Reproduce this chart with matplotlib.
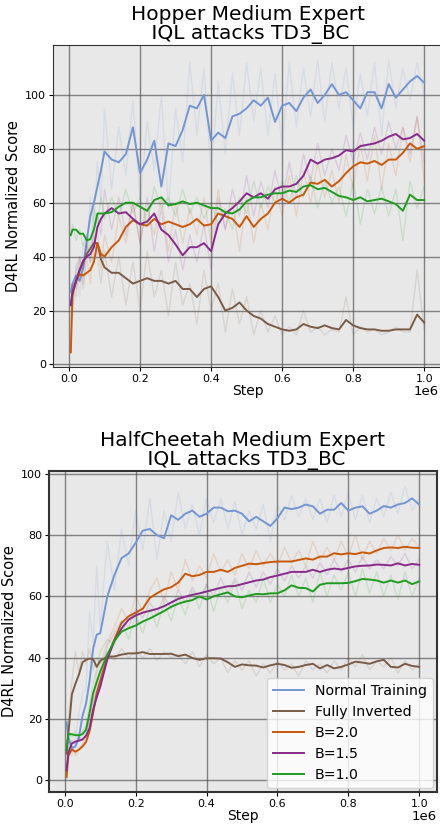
import numpy as np
import matplotlib
matplotlib.use("Agg")
import matplotlib.pyplot as plt

# training steps (thousands)
steps_k = [5, 10, 20, 30, 40, 50, 60, 70, 80, 90, 100,
           120, 140, 160, 180, 200, 220, 240, 260, 280, 300,
           320, 340, 360, 380, 400, 420, 440, 460, 480, 500,
           520, 540, 560, 580, 600, 620, 640, 660, 680, 700,
           720, 740, 760, 780, 800, 820, 840, 860, 880, 900,
           920, 940, 960, 980, 1000]

labels = ["Normal Training", "Fully Inverted", "B=2.0", "B=1.5", "B=1.0"]
colors = ["#7396d2", "#7a5c46", "#c8580a", "#872a8a", "#1f9b1f"]

# ---- Hopper: smoothed curves
hop_normal = [27, 30, 33, 31, 36, 46, 55, 60, 66, 72, 79,
              76, 75, 78, 88, 71, 76, 83, 66, 82, 81, 87, 96, 95, 100, 83,
              86, 84, 92, 93, 95, 98, 96, 99, 90, 96, 97, 94, 99, 102, 97,
              100, 104, 100, 101, 98, 95, 101, 101, 95, 104, 99, 102, 105, 107, 104.5]
hop_inverted = [22, 26, 31, 35, 38, 41, 43, 45, 45, 39, 36,
                34, 34, 32, 30, 31, 32, 31, 31, 30, 31, 28, 28, 25, 28, 29,
                25, 20, 21, 23, 20, 18, 17, 15, 14, 13, 12.5, 13, 15, 14, 13.5,
                14.5, 13.5, 13, 16.5, 14.5, 13.5, 13, 13, 12.5, 12.5, 13, 13, 13, 18.5, 15.5]
hop_b20 = [4.5, 27, 31, 33.5, 33, 34, 35, 38, 45, 41, 40,
           43.5, 46, 51, 53.5, 52, 51.5, 54, 52, 53, 52, 51, 52, 54, 51.5, 52,
           56, 55, 54, 51, 55, 51, 54, 56, 60, 61.5, 60, 62, 63, 67.5, 67,
           68.5, 66, 68, 71, 73.5, 75, 74.5, 75.5, 74, 76, 76, 78.5, 82, 80, 81]
hop_b15 = [22, 27, 31, 35, 38.5, 40, 41, 43.5, 51, 54, 56,
           58, 56, 56.5, 54, 52, 53, 56, 50, 48, 44.5, 40.5, 43.5, 43.5, 45, 42,
           52, 56, 58, 60.5, 63.5, 62, 63.5, 61.5, 65, 66, 66, 67, 70, 76, 74.5,
           76, 76.5, 77.5, 79.5, 79, 81, 81.5, 82, 83, 84.5, 85.5, 83.5, 84, 85.5, 83]
hop_b10 = [48, 50, 50, 48.5, 48.5, 46, 46.5, 50, 56, 56, 56,
           56.5, 58.5, 60, 60, 58.5, 57, 61, 62, 59, 59.5, 60.5, 59.5, 60, 59, 58,
           58, 56.5, 56, 57.5, 60.5, 62, 62, 63, 63.5, 63.5, 64.5, 64, 66, 66.5, 65,
           65.5, 64, 62.5, 62, 61, 62, 60.5, 61, 61.5, 60.5, 59.5, 57, 63, 61, 61]

# ---- Hopper: raw evaluations (faint)
hop_normal_raw = [30, 22, 38, 25, 45, 40, 62, 52, 75, 60, 95,
                  65, 88, 70, 98, 60, 90, 72, 100, 58, 95, 75, 112, 85, 110, 70,
                  105, 78, 108, 85, 112, 90, 110, 85, 108, 80, 112, 88, 110, 92, 113,
                  90, 112, 95, 110, 88, 108, 92, 112, 85, 113, 95, 110, 98, 112, 100]
hop_inverted_raw = [25, 18, 35, 40, 30, 45, 38, 48, 40, 30, 42,
                    25, 40, 22, 38, 20, 42, 25, 35, 18, 38, 22, 30, 15, 35, 20,
                    30, 12, 28, 15, 25, 11, 20, 12, 18, 11, 14, 11, 20, 12, 14,
                    11, 13, 12, 25, 11, 14, 12, 13, 11, 12, 14, 12, 12, 35, 13]
hop_b20_raw = [4.4, 30, 25, 38, 28, 40, 30, 45, 50, 35, 48,
               38, 55, 45, 60, 45, 58, 48, 62, 42, 60, 45, 58, 48, 62, 45,
               65, 50, 60, 42, 62, 45, 60, 50, 66, 55, 70, 55, 72, 60, 75,
               62, 72, 60, 78, 65, 82, 68, 85, 65, 82, 70, 88, 75, 92, 68]
hop_b15_raw = [22, 30, 28, 40, 35, 45, 38, 50, 55, 48, 65,
               50, 62, 48, 60, 45, 62, 42, 58, 38, 50, 35, 48, 38, 52, 35,
               62, 50, 65, 55, 70, 55, 68, 58, 72, 60, 75, 62, 78, 68, 82,
               70, 80, 72, 85, 75, 86, 76, 88, 78, 90, 80, 88, 78, 92, 75]
hop_b10_raw = [48, 52, 46, 50, 44, 48, 42, 58, 52, 62, 54,
               62, 55, 65, 56, 62, 52, 66, 58, 62, 55, 65, 56, 62, 54, 60,
               52, 58, 50, 62, 56, 68, 58, 66, 60, 68, 60, 70, 62, 70, 58,
               68, 60, 66, 55, 68, 52, 65, 56, 66, 55, 65, 46, 68, 58, 66]

# ---- HalfCheetah: smoothed curves
hc_normal = [19, 14, 10.5, 11, 14, 21, 25, 32.5, 43, 47.5, 48,
             60, 67, 72.5, 74, 77.5, 81.5, 82, 80, 79, 86.5, 85, 87, 88, 86, 87,
             89, 89, 87.8, 88, 87, 84.5, 86, 84.5, 83, 85.5, 89, 88.5, 89, 90, 89.4,
             87, 88.3, 88.3, 90.5, 88, 89, 89.4, 87, 88, 89.5, 89, 90, 90.5, 92, 90]
hc_inverted = [8.7, 15, 28, 31.5, 34.5, 38.5, 39.3, 39.7, 39.5, 37, 39,
               40.3, 40.4, 41, 41.4, 41.4, 41.8, 41.2, 41.2, 41.2, 41.3, 40.5, 41, 39.9, 39.3, 39.8,
               39.8, 39.7, 38.5, 37, 37.8, 37.5, 37.4, 36.8, 37.5, 38, 37.6, 36.7, 37, 37.6, 38,
               36.5, 37.6, 36.5, 37, 37.8, 38.7, 38.4, 38, 38.8, 39.3, 37, 36.8, 38, 37.3, 37]
hc_b20 = [1, 8, 10, 9.3, 10, 11, 12.5, 16, 22, 28.4, 32.5,
          40, 46, 51.3, 53.5, 54.7, 56, 59.5, 61, 62.3, 63, 64.5, 67.4, 66.6, 67, 68,
          68, 68.7, 68, 69.3, 70, 70.7, 70.5, 70.9, 71.2, 71.4, 71.4, 71.4, 71.9, 72.4, 72,
          73, 73, 74.1, 73.7, 74.1, 73.8, 74.4, 74, 75, 75.8, 76, 75.8, 76.2, 75.9, 75.8]
hc_b15 = [3.3, 9, 12, 12.6, 12.9, 13.3, 14.5, 17, 23, 27, 30.5,
          39.5, 45.5, 49.5, 52.4, 53.8, 54.7, 55.3, 55.9, 56.8, 58, 59.2, 59.9, 60.5, 61, 61.6,
          62.2, 62.8, 63.3, 63.4, 64, 64.6, 65.2, 65.5, 66.3, 66.8, 67.4, 68, 68, 68, 68.7,
          68, 68.7, 69.1, 68.8, 69.3, 69.8, 70, 70.1, 70.4, 70.3, 70.1, 70.8, 70.1, 70.6, 70.3]
hc_b10 = [9.8, 15, 15, 14.7, 14.7, 15, 16.5, 22, 28.4, 32, 35.5,
          41, 45.5, 48.5, 49.6, 50.5, 51.8, 52.8, 54, 55.2, 56.6, 57.6, 58.3, 58.8, 60, 59,
          60, 60.7, 61.3, 60, 59.7, 60.3, 60.8, 60.7, 61, 61, 62, 63.6, 62.8, 62.7, 61.6,
          63.8, 64.3, 64.3, 64.3, 64.4, 65, 65.7, 65.5, 65.2, 64.5, 65.2, 64.5, 65.2, 64, 64.9]

# ---- HalfCheetah: raw evaluations (faint)
hc_normal_raw = [19, 10, 8, 14, 22, 28, 30, 55, 45, 70, 50,
                 78, 62, 82, 70, 88, 75, 92, 72, 88, 78, 94, 82, 90, 80, 92,
                 84, 92, 82, 91, 80, 88, 82, 90, 78, 90, 85, 93, 86, 92, 85,
                 92, 84, 93, 86, 94, 85, 93, 84, 92, 86, 94, 87, 96, 88, 92]
hc_inverted_raw = [8, 20, 32, 42, 35, 42, 38, 43, 36, 40, 38,
                   42, 39, 43, 40, 42, 40, 43, 39, 42, 40, 41, 38, 42, 37, 41,
                   38, 40, 35, 39, 36, 39, 34, 38, 35, 39, 36, 38, 34, 39, 36,
                   38, 35, 39, 36, 40, 37, 41, 36, 39, 37, 40, 35, 39, 36, 38]
hc_b20_raw = [1, 9, 11, 8, 10, 12, 14, 20, 26, 35, 38,
              45, 50, 56, 52, 60, 55, 62, 66, 58, 68, 62, 72, 65, 70, 66,
              74, 68, 72, 67, 74, 69, 75, 70, 74, 70, 76, 71, 75, 70, 78,
              72, 76, 72, 78, 73, 80, 72, 78, 74, 79, 75, 80, 75, 79, 76]
hc_b15_raw = [3, 10, 13, 12, 14, 13, 15, 20, 25, 30, 33,
              44, 48, 52, 50, 56, 53, 58, 54, 60, 56, 62, 58, 63, 59, 64,
              60, 66, 61, 66, 62, 68, 63, 68, 64, 69, 65, 70, 66, 70, 66,
              71, 67, 72, 68, 72, 68, 73, 69, 72, 69, 73, 70, 74, 69, 72]
hc_b10_raw = [10, 16, 14, 16, 13, 16, 18, 25, 32, 36, 42,
              46, 44, 52, 46, 54, 48, 56, 50, 58, 52, 60, 54, 62, 56, 64,
              55, 63, 58, 65, 56, 62, 58, 66, 58, 64, 60, 67, 60, 66, 58,
              68, 60, 67, 62, 68, 60, 69, 61, 68, 60, 67, 59, 68, 60, 66]


def draw_panel(ax, smooth, raw, title, ylim, spine_lw, exp_xy):
    x = np.array(steps_k) * 1000
    ax.set_facecolor("#e8e8e8")
    for s, r, c, lab in zip(smooth, raw, colors, labels):
        ax.plot(x, r, color=c, lw=1.0, alpha=0.15)
        ax.plot(x, s, color=c, lw=1.4, label=lab)
    ax.set_xlim(-0.045e6, 1.05e6)
    ax.set_ylim(*ylim)
    ax.set_yticks([0, 20, 40, 60, 80, 100])
    ax.set_xticks([0, 0.2e6, 0.4e6, 0.6e6, 0.8e6, 1.0e6])
    ax.set_xticklabels(["0.0", "0.2", "0.4", "0.6", "0.8", "1.0"])
    ax.grid(True, color="#555555", lw=1.0, alpha=0.7)
    ax.set_axisbelow(True)
    for sp in ax.spines.values():
        sp.set_color("#333333")
        sp.set_linewidth(spine_lw)
    ax.tick_params(labelsize=8, length=3, width=0.8, pad=2)
    # scale marker for the step axis
    ax.text(exp_xy[0], exp_xy[1], "1e6", transform=ax.transAxes,
            fontsize=9.5, ha="center", va="top")
    ax.set_xlabel("Step", fontsize=10, labelpad=0)
    ax.set_ylabel("D4RL Normalized Score", fontsize=10.5, labelpad=3)
    ax.set_title(title, fontsize=14.5, linespacing=1.0, pad=4)


fig = plt.figure(figsize=(4.4, 8.26), dpi=100)

ax1 = fig.add_axes([0.1205, 0.5555, 0.884, 0.39])
draw_panel(ax1,
           [hop_normal, hop_inverted, hop_b20, hop_b15, hop_b10],
           [hop_normal_raw, hop_inverted_raw, hop_b20_raw, hop_b15_raw, hop_b10_raw],
           "Hopper Medium Expert\n IQL attacks TD3_BC", (-1.0, 118.5), 0.8,
           (0.96, -0.056))

ax2 = fig.add_axes([0.111, 0.041, 0.882, 0.389])
draw_panel(ax2,
           [hc_normal, hc_inverted, hc_b20, hc_b15, hc_b10],
           [hc_normal_raw, hc_inverted_raw, hc_b20_raw, hc_b15_raw, hc_b10_raw],
           "HalfCheetah Medium Expert\n IQL attacks TD3_BC", (-3.9, 101.0), 1.5,
           (0.966, -0.056))
ax2.legend(loc="lower right", fontsize=10.2, framealpha=0.8, borderaxespad=0.3,
           handlelength=2.2)

fig.savefig("out.png", dpi=100)
plt.close(fig)
